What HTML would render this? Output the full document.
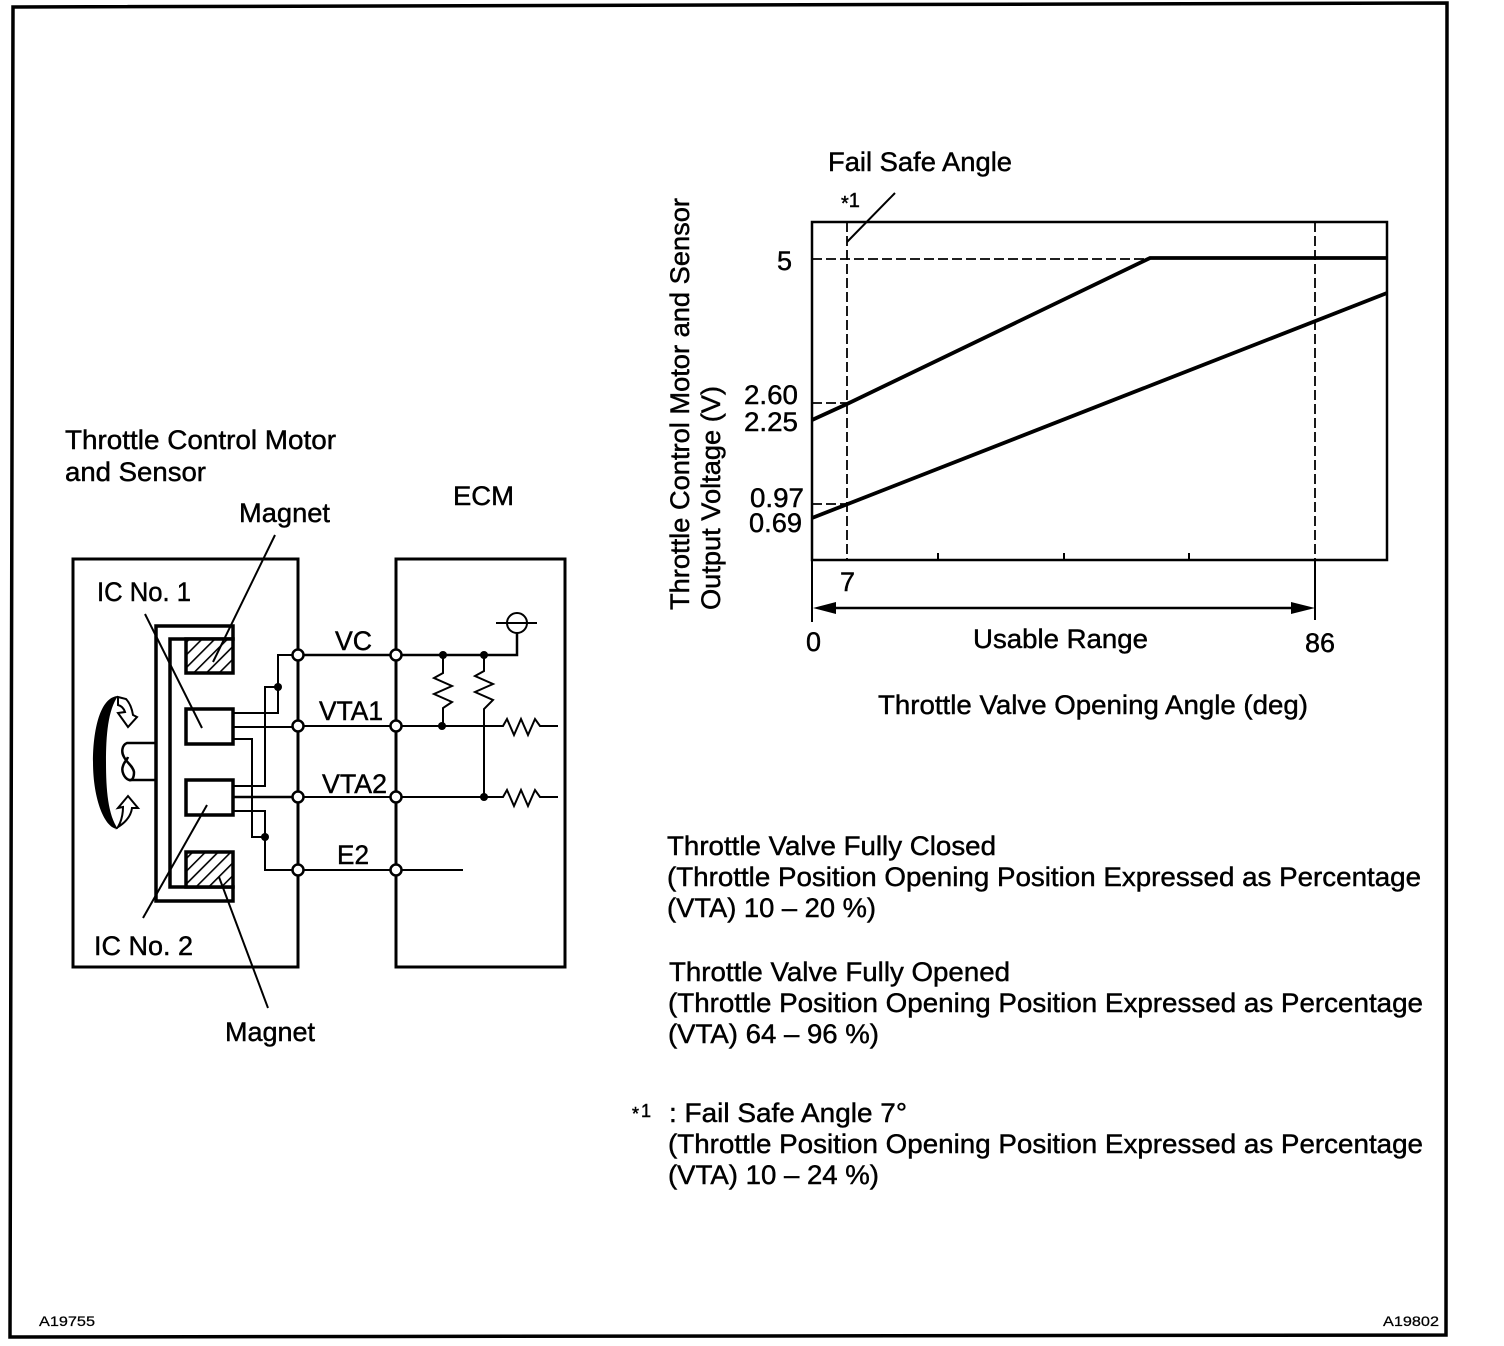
<!DOCTYPE html>
<html><head><meta charset="utf-8"><style>
html,body{margin:0;padding:0;background:#fff}
svg{display:block}
text{font-family:"Liberation Sans",sans-serif;font-size:27px;fill:#000;stroke:#000;stroke-width:.45}
.s{font-size:14px;stroke-width:.25}
</style></head><body>
<svg xmlns="http://www.w3.org/2000/svg" width="1504" height="1346" viewBox="0 0 1504 1346">
<defs>
<pattern id="h" width="9" height="9" patternUnits="userSpaceOnUse" patternTransform="rotate(45)">
<rect width="9" height="9" fill="#fff"/><rect width="1.6" height="9" fill="#000"/>
</pattern>
</defs>
<rect width="1504" height="1346" fill="#fff"/>
<path d="M13 7L1447 3L1446 1335L10 1337Z" fill="none" stroke="#000" stroke-width="3.5"/>

<!-- left diagram boxes -->
<g fill="none" stroke="#000" stroke-width="3">
<rect x="73" y="559" width="225" height="408"/>
<rect x="396" y="559" width="169" height="408"/>
<path d="M233 626H156V901H233V887H170V639H233Z" stroke-width="3.5" fill="#fff"/>
<rect x="186" y="639" width="47" height="34" fill="url(#h)" stroke-width="3.5"/>
<rect x="186" y="852" width="47" height="35" fill="url(#h)" stroke-width="3.5"/>
<rect x="186" y="709" width="47" height="35" fill="#fff" stroke-width="3.5"/>
<rect x="186" y="780" width="47" height="35" fill="#fff" stroke-width="3.5"/>
</g>

<!-- wheel and shaft -->
<path d="M118 696C100 697 93 730 93 762C93 800 105 829 118 829C108 815 106 790 106 762C106 735 108 710 118 696Z" fill="#000"/>
<g fill="none" stroke="#000" stroke-width="2.500">
<path d="M156 743H127C122 745 121 752 124 757C127 763 133 766 134 772C134 778 132 781 129 780C124 778 121 771 123 766C124 762 127 760 128 757"/>
<path d="M129 780H156"/>
<path d="M118 697L126 699C130 703 132 709 133 715L137 717L128 727L118 713L125 712C124 709 122 706 118 705Z" fill="#fff" stroke-width="2"/>
<path d="M118 827C126 822 131 816 132 808L138 808L128 796L118 808L123 807C123 813 122 818 120 823Z" fill="#fff" stroke-width="2"/>
</g>

<!-- internal wires -->
<g fill="none" stroke="#000" stroke-width="2">
<path d="M233 713H278V655H298"/>
<path d="M278 687H265V786H233"/>
<path d="M233 727H298"/>
<path d="M233 739H252V837H265"/>
<path d="M233 797H298" stroke-width="2.500"/>
<path d="M233 811H265V870H298"/>
<path d="M298 655H517V632" stroke-width="2.500"/>
<path d="M298 726H503L507 719L514 735L521 719L528 735L535 719L540 726H558"/>
<path d="M298 797H503L507 790L514 806L521 790L528 806L535 790L540 797H558"/>
<path d="M298 870H463"/>
<path d="M443 655V673L434 678L452 686L434 694L452 702L443 708V726"/>
<path d="M484 655V671L475 676L493 684L475 692L493 700L484 709V797"/>
<circle cx="517" cy="623" r="10"/>
<path d="M496 623H537"/>
</g>
<g fill="#000">
<circle cx="278" cy="687" r="4"/>
<circle cx="265" cy="837" r="4"/>
<circle cx="443" cy="655" r="4"/>
<circle cx="484" cy="655" r="4"/>
<circle cx="442" cy="726" r="4"/>
<circle cx="484" cy="797" r="4"/>
</g>
<g fill="#fff" stroke="#000" stroke-width="2.500">
<circle cx="298" cy="655" r="5.500"/><circle cx="298" cy="726" r="5.500"/><circle cx="298" cy="797" r="5.500"/><circle cx="298" cy="870" r="5.500"/>
<circle cx="396" cy="655" r="5.500"/><circle cx="396" cy="726" r="5.500"/><circle cx="396" cy="797" r="5.500"/><circle cx="396" cy="870" r="5.500"/>
</g>

<!-- leaders -->
<g stroke="#000" stroke-width="2" fill="none">
<path d="M275 535L213 662"/>
<path d="M145 614L202 728"/>
<path d="M143 918L207 805"/>
<path d="M268 1008L219 877"/>
</g>

<!-- chart -->
<g fill="none" stroke="#000">
<rect x="812" y="222" width="575" height="338" stroke-width="2.500"/>
<path d="M812 560V622" stroke-width="2"/>
<path d="M1315 560V620" stroke-width="2"/>
<path d="M847 222V560M1315 222V560M812 259H1150M812 403H847M812 504H847" stroke-width="1.800" stroke-dasharray="10 4"/>
<path d="M812 420L847 404L1150 258H1387" stroke-width="3.800"/>
<path d="M812 518L1387 293" stroke-width="3.800"/>
<path d="M938 553V560M1064 553V560M1189 553V560" stroke-width="2"/>
<path d="M830 608H1295" stroke-width="2.500"/>
<path d="M847 242L895 193" stroke-width="2"/>
</g>
<path d="M813 608L836 602V614Z M1315 608L1291 602V614Z" fill="#000"/>

<!-- labels left -->
<text x="65" y="449" textLength="271" lengthAdjust="spacingAndGlyphs">Throttle Control Motor</text>
<text x="65" y="481" textLength="141" lengthAdjust="spacingAndGlyphs">and Sensor</text>
<text x="239" y="522" textLength="91" lengthAdjust="spacingAndGlyphs">Magnet</text>
<text x="453" y="505" textLength="61" lengthAdjust="spacingAndGlyphs">ECM</text>
<text x="97" y="601" textLength="94" lengthAdjust="spacingAndGlyphs">IC No. 1</text>
<text x="94" y="955" textLength="99" lengthAdjust="spacingAndGlyphs">IC No. 2</text>
<text x="225" y="1041" textLength="90" lengthAdjust="spacingAndGlyphs">Magnet</text>
<text x="335" y="650" textLength="37" lengthAdjust="spacingAndGlyphs">VC</text>
<text x="319" y="720" textLength="64" lengthAdjust="spacingAndGlyphs">VTA1</text>
<text x="322" y="793" textLength="65" lengthAdjust="spacingAndGlyphs">VTA2</text>
<text x="337" y="864" textLength="32" lengthAdjust="spacingAndGlyphs">E2</text>

<!-- labels chart -->
<text x="828" y="171" textLength="184" lengthAdjust="spacingAndGlyphs">Fail Safe Angle</text>
<text x="841" y="207" style="font-size:20px"><tspan dy="3">*</tspan><tspan dy="-3">1</tspan></text>
<text x="777" y="270">5</text>
<text x="744" y="404" textLength="54" lengthAdjust="spacingAndGlyphs">2.60</text>
<text x="744" y="431" textLength="54" lengthAdjust="spacingAndGlyphs">2.25</text>
<text x="750" y="507" textLength="54" lengthAdjust="spacingAndGlyphs">0.97</text>
<text x="749" y="532" textLength="53" lengthAdjust="spacingAndGlyphs">0.69</text>
<text x="840" y="591">7</text>
<text x="806" y="651">0</text>
<text x="973" y="648" textLength="175" lengthAdjust="spacingAndGlyphs">Usable Range</text>
<text x="1305" y="652" textLength="30" lengthAdjust="spacingAndGlyphs">86</text>
<text x="878" y="714" textLength="430" lengthAdjust="spacingAndGlyphs">Throttle Valve Opening Angle (deg)</text>
<text transform="translate(689 610) rotate(-90)" textLength="412" lengthAdjust="spacingAndGlyphs">Throttle Control Motor and Sensor</text>
<text transform="translate(720 610) rotate(-90)" textLength="224" lengthAdjust="spacingAndGlyphs">Output Voltage (V)</text>

<!-- notes -->
<text x="667" y="855" textLength="329" lengthAdjust="spacingAndGlyphs">Throttle Valve Fully Closed</text>
<text x="667" y="886" textLength="754" lengthAdjust="spacingAndGlyphs">(Throttle Position Opening Position Expressed as Percentage</text>
<text x="667" y="917" textLength="209" lengthAdjust="spacingAndGlyphs">(VTA) 10 – 20 %)</text>
<text x="669" y="981" textLength="341" lengthAdjust="spacingAndGlyphs">Throttle Valve Fully Opened</text>
<text x="668" y="1012" textLength="755" lengthAdjust="spacingAndGlyphs">(Throttle Position Opening Position Expressed as Percentage</text>
<text x="668" y="1043" textLength="211" lengthAdjust="spacingAndGlyphs">(VTA) 64 – 96 %)</text>
<text x="632" y="1117" style="font-size:18px"><tspan dy="3">*</tspan><tspan dy="-3" dx="2">1</tspan></text>
<text x="669" y="1122" textLength="238" lengthAdjust="spacingAndGlyphs">: Fail Safe Angle 7°</text>
<text x="668" y="1153" textLength="755" lengthAdjust="spacingAndGlyphs">(Throttle Position Opening Position Expressed as Percentage</text>
<text x="668" y="1184" textLength="211" lengthAdjust="spacingAndGlyphs">(VTA) 10 – 24 %)</text>
<text class="s" x="39" y="1326" textLength="56" lengthAdjust="spacingAndGlyphs">A19755</text>
<text class="s" x="1383" y="1326" textLength="56" lengthAdjust="spacingAndGlyphs">A19802</text>
</svg>
</body></html>
